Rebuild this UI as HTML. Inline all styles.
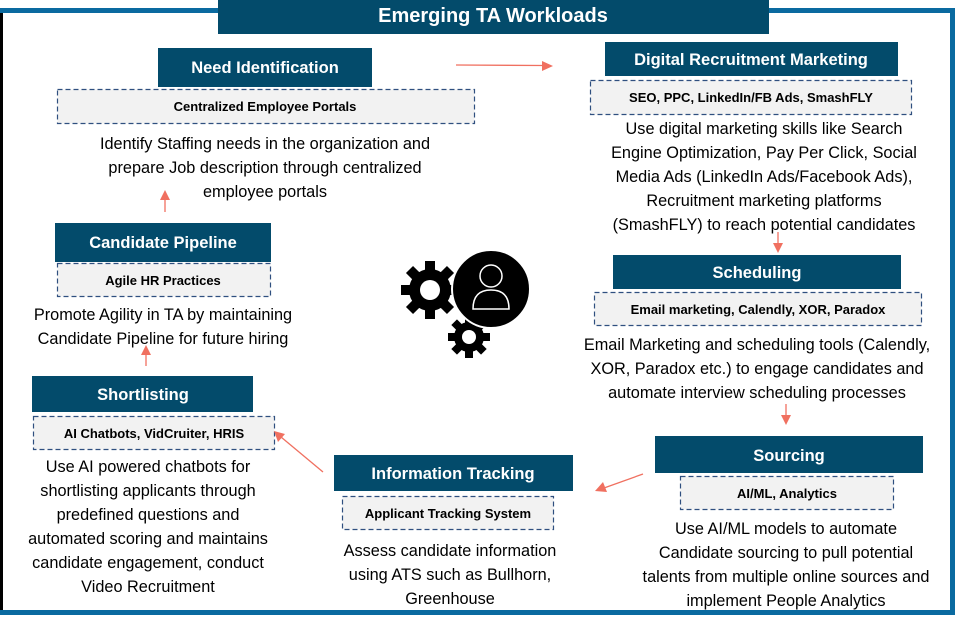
<!DOCTYPE html>
<html><head><meta charset="utf-8"><style>
html,body{margin:0;padding:0;background:#fff;}
svg{display:block;font-family:"Liberation Sans",sans-serif;}
.h{fill:#fff;font-weight:bold;font-size:16.5px;text-anchor:middle;}
.s{fill:#000;font-weight:bold;font-size:13px;text-anchor:middle;}
.b{fill:#000;font-size:16.3px;text-anchor:middle;}
.hb{fill:#034b6b;}
.sb{fill:#f2f2f2;stroke:#2f4f7f;stroke-width:1.2;stroke-dasharray:5,3;}
.ar{stroke:#f07060;stroke-width:1.3;fill:none;}
.ah{fill:#f07060;}
</style></head><body>
<svg width="958" height="621" viewBox="0 0 958 621">
<!-- frame -->
<rect x="0" y="8" width="3" height="607" fill="#000"/>
<rect x="0" y="8" width="955" height="5" fill="#0a6aa0"/>
<rect x="950" y="8" width="5" height="607" fill="#0a6aa0"/>
<rect x="0" y="610" width="955" height="5" fill="#0a6aa0"/>
<rect x="218" y="0" width="551" height="34" fill="#034b6b"/>
<text x="493" y="22" fill="#fff" font-weight="bold" font-size="20" text-anchor="middle">Emerging TA Workloads</text>

<!-- Need Identification -->
<rect class="hb" x="158" y="48" width="214" height="39"/>
<text class="h" x="265" y="73">Need Identification</text>
<rect class="sb" x="57.5" y="89.5" width="417" height="34"/>
<text class="s" x="265" y="111">Centralized Employee Portals</text>
<text class="b" x="265" y="149">Identify Staffing needs in the organization and</text>
<text class="b" x="265" y="173">prepare Job description through centralized</text>
<text class="b" x="265" y="197">employee portals</text>

<!-- Digital -->
<rect class="hb" x="605" y="42" width="293" height="34"/>
<text class="h" x="751" y="65">Digital Recruitment Marketing</text>
<rect class="sb" x="590.5" y="80.5" width="321" height="34"/>
<text class="s" x="751" y="102">SEO, PPC, LinkedIn/FB Ads, SmashFLY</text>
<text class="b" x="764" y="134">Use digital marketing skills like Search</text>
<text class="b" x="764" y="158">Engine Optimization, Pay Per Click, Social</text>
<text class="b" x="764" y="182">Media Ads (LinkedIn Ads/Facebook Ads),</text>
<text class="b" x="764" y="206">Recruitment marketing platforms</text>
<text class="b" x="764" y="230">(SmashFLY) to reach potential candidates</text>

<!-- Scheduling -->
<rect class="hb" x="613" y="255" width="288" height="34"/>
<text class="h" x="757" y="278">Scheduling</text>
<rect class="sb" x="594.5" y="292.5" width="327" height="33"/>
<text class="s" x="758" y="314">Email marketing, Calendly, XOR, Paradox</text>
<text class="b" x="757" y="350">Email Marketing and scheduling tools (Calendly,</text>
<text class="b" x="757" y="374">XOR, Paradox etc.) to engage candidates and</text>
<text class="b" x="757" y="398">automate interview scheduling processes</text>

<!-- Candidate Pipeline -->
<rect class="hb" x="55" y="223" width="216" height="39"/>
<text class="h" x="163" y="248">Candidate Pipeline</text>
<rect class="sb" x="57.5" y="263.5" width="213" height="33"/>
<text class="s" x="163" y="285">Agile HR Practices</text>
<text class="b" x="163" y="320">Promote Agility in TA by maintaining</text>
<text class="b" x="163" y="344">Candidate Pipeline for future hiring</text>

<!-- Shortlisting -->
<rect class="hb" x="32" y="376" width="221" height="36"/>
<text class="h" x="143" y="400">Shortlisting</text>
<rect class="sb" x="33.5" y="416.5" width="241" height="33"/>
<text class="s" x="154" y="438">AI Chatbots, VidCruiter, HRIS</text>
<text class="b" x="148" y="472">Use AI powered chatbots for</text>
<text class="b" x="148" y="496">shortlisting applicants through</text>
<text class="b" x="148" y="520">predefined questions and</text>
<text class="b" x="148" y="544">automated scoring and maintains</text>
<text class="b" x="148" y="568">candidate engagement, conduct</text>
<text class="b" x="148" y="592">Video Recruitment</text>

<!-- Information Tracking -->
<rect class="hb" x="334" y="455" width="239" height="36"/>
<text class="h" x="453" y="479">Information Tracking</text>
<rect class="sb" x="342.5" y="496.5" width="211" height="33"/>
<text class="s" x="448" y="518">Applicant Tracking System</text>
<text class="b" x="450" y="556">Assess candidate information</text>
<text class="b" x="450" y="580">using ATS such as Bullhorn,</text>
<text class="b" x="450" y="604">Greenhouse</text>

<!-- Sourcing -->
<rect class="hb" x="655" y="436" width="268" height="37"/>
<text class="h" x="789" y="461">Sourcing</text>
<rect class="sb" x="680.5" y="476.5" width="213" height="33"/>
<text class="s" x="787" y="498">AI/ML, Analytics</text>
<text class="b" x="786" y="534">Use AI/ML models to automate</text>
<text class="b" x="786" y="558">Candidate sourcing to pull potential</text>
<text class="b" x="786" y="582">talents from multiple online sources and</text>
<text class="b" x="786" y="606">implement People Analytics</text>

<!-- arrows -->
<line class="ar" x1="456" y1="65" x2="543" y2="65.5"/><polygon class="ah" points="553,66 542,61 542,71"/>
<line class="ar" x1="165" y1="212" x2="165" y2="198"/><polygon class="ah" points="165,190 160,200 170,200"/>
<line class="ar" x1="778" y1="232" x2="778" y2="244"/><polygon class="ah" points="778,253 773,243 783,243"/>
<line class="ar" x1="786" y1="404" x2="786" y2="416"/><polygon class="ah" points="786,425 781,415 791,415"/>
<line class="ar" x1="643" y1="474" x2="604" y2="488"/><polygon class="ah" points="595,491 603,482 607,492"/>
<line class="ar" x1="323" y1="472" x2="281" y2="437"/><polygon class="ah" points="274,431 278,442 285,434"/>
<line class="ar" x1="146" y1="366" x2="146" y2="353"/><polygon class="ah" points="146,345 141,355 151,355"/>

<!-- icon -->
<g fill="#000">
  <g transform="translate(430,290)">
    <circle r="21"/>
    <g id="t"><rect x="-5" y="-29" width="10" height="10"/></g>
    <use href="#t" transform="rotate(45)"/><use href="#t" transform="rotate(90)"/><use href="#t" transform="rotate(135)"/>
    <use href="#t" transform="rotate(180)"/><use href="#t" transform="rotate(225)"/><use href="#t" transform="rotate(270)"/><use href="#t" transform="rotate(315)"/>
    <circle r="10" fill="#fff"/>
  </g>
  <g transform="translate(469,337)">
    <circle r="15"/>
    <g id="t2"><rect x="-4" y="-21" width="8" height="8"/></g>
    <use href="#t2" transform="rotate(45)"/><use href="#t2" transform="rotate(90)"/><use href="#t2" transform="rotate(135)"/>
    <use href="#t2" transform="rotate(180)"/><use href="#t2" transform="rotate(225)"/><use href="#t2" transform="rotate(270)"/><use href="#t2" transform="rotate(315)"/>
    <circle r="7" fill="#fff"/>
  </g>
  <circle cx="491" cy="289" r="39" stroke="#fff" stroke-width="2"/>
  <circle cx="491" cy="276" r="11" fill="none" stroke="#fff" stroke-width="1.5"/>
  <path d="M473,309 Q473,290 491,290 Q509,290 509,309 Z" fill="none" stroke="#fff" stroke-width="1.5"/>
</g>
</svg>
</body></html>
